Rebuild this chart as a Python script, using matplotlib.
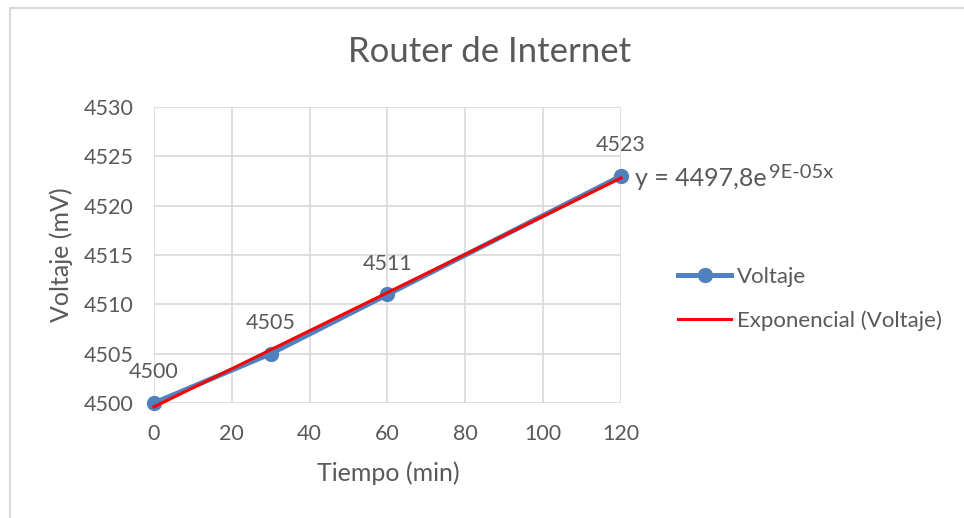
import numpy as np
import matplotlib
matplotlib.use("Agg")
import matplotlib.pyplot as plt
from matplotlib.lines import Line2D

plt.rcParams['font.family'] = ['Lato', 'DejaVu Sans']

# Measured data
tiempo = [0, 30, 60, 120]
voltaje = [4500, 4505, 4511, 4523]
x_ticks = [0, 20, 40, 60, 80, 100, 120]
y_ticks = [4500, 4505, 4510, 4515, 4520, 4525, 4530]
equation_main = "y = 4497,8e"
equation_exp = "9E-05x"

text_color = "#595959"
grid_color = "#D9D9D9"
blue = "#4F81BD"
red = "#FF0000"
small = 15.5

W, H = 964, 518
fig = plt.figure(figsize=(W / 100, H / 100), dpi=100)
ax = fig.add_axes([154 / W, 1 - 403 / H, (621 - 154) / W, (403 - 107) / H])

# Exponential trendline fitted to the measurements (least squares on ln y)
b, ln_a = np.polyfit(tiempo, np.log(voltaje), 1)
xs = np.linspace(0, 120, 200)
trend = np.exp(ln_a) * np.exp(b * xs)

ax.plot(tiempo, voltaje, color=blue, lw=3.6, marker='o', ms=10, zorder=3, clip_on=False)
ax.plot(xs, trend, color=red, lw=2.2, zorder=4, clip_on=False)

ax.set_xlim(0, 120)
ax.set_ylim(4500, 4530)
ax.set_xticks(x_ticks)
ax.set_yticks(y_ticks)
ax.grid(True, color=grid_color, lw=1.2)
ax.set_axisbelow(True)
for s in ax.spines.values():
    s.set_visible(False)
ax.tick_params(length=0, labelsize=small, colors=text_color)
ax.tick_params(axis='y', pad=15)
ax.tick_params(axis='x', pad=15)

# Value labels above each point
for x, y in zip(tiempo, voltaje):
    ax.annotate(str(y), (x, y), xytext=(0, 15), textcoords='offset points',
                ha='center', va='bottom', fontsize=small, color=text_color)

# Axis titles and chart title
fig.text(388 / W, 1 - 473 / H, "Tiempo (min)", fontsize=18, color=text_color,
         ha='center', va='center')
fig.text(61 / W, 1 - 255 / H, "Voltaje (mV)", fontsize=18, color=text_color,
         ha='center', va='center', rotation=90)
fig.text(490 / W, 1 - 52 / H, "Router de Internet", fontsize=25,
         color=text_color, ha='center', va='center')

# Trendline equation with superscript exponent
eq = fig.text(635 / W, 1 - 179 / H, equation_main, fontsize=18,
              color=text_color, ha='left', va='center')
fig.canvas.draw()
bb = eq.get_window_extent()
fig.text(bb.x1 / fig.bbox.width + 0.002, 1 - 173 / H, equation_exp,
         fontsize=14.5, color=text_color, ha='left', va='center')

# Legend
handles = [Line2D([], [], color=blue, lw=3.6, marker='o', ms=10),
           Line2D([], [], color=red, lw=2.2)]
fig.legend(handles, ["Voltaje", "Exponencial (Voltaje)"],
           loc='center left', bbox_to_anchor=(678 / W, 1 - 299 / H),
           frameon=False, fontsize=16, labelcolor=text_color,
           borderpad=0, borderaxespad=0,
           handlelength=2.4, handletextpad=0.25, labelspacing=1.05)

# Chart frame (left and top edges)
fig.add_artist(Line2D([10 / W, 10 / W], [0, 1 - 8 / H], color=grid_color,
                      lw=1.5, transform=fig.transFigure))
fig.add_artist(Line2D([10 / W, 1], [1 - 8 / H, 1 - 8 / H], color=grid_color,
                      lw=1.5, transform=fig.transFigure))

fig.savefig("out.png", dpi=100)
